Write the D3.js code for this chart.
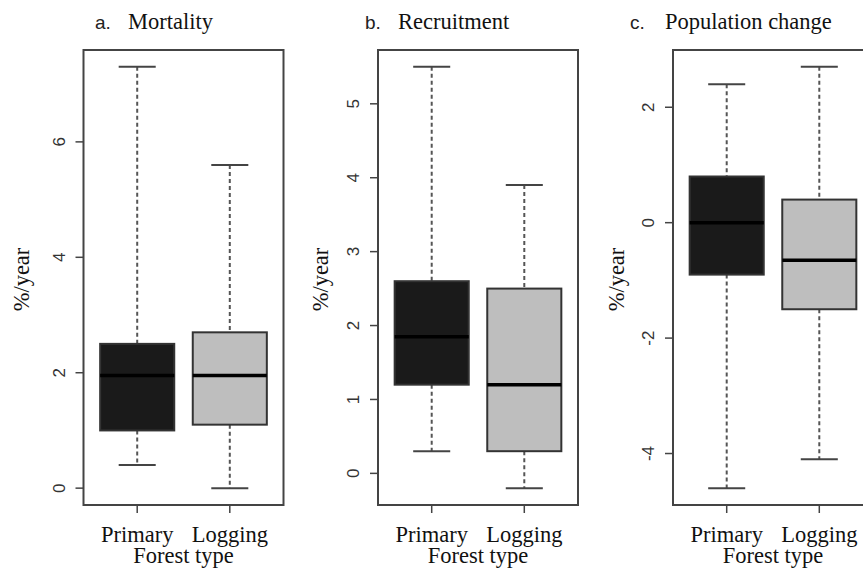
<!DOCTYPE html>
<html>
<head>
<meta charset="utf-8">
<script src="https://cdn.jsdelivr.net/npm/d3@7"></script>
<style>
  body { margin: 0; background: #fff; }
  svg { display: block; }
  .serif { font-family: "Liberation Serif", "DejaVu Serif", serif; fill: #111; }
  .sans { font-family: "Liberation Sans", Arial, sans-serif; fill: #333; }
</style>
</head>
<body>
<svg id="chart" width="863" height="571"></svg>
<script>
// Box-plot summaries: [lower whisker, Q1, median, Q3, upper whisker]
const groups = ["Primary", "Logging"];
const fills = ["#1a1a1a", "#bebebe"];

const mortality = [
  [0.4, 1.0, 1.95, 2.5, 7.3],
  [0.0, 1.1, 1.95, 2.7, 5.6],
];
const recruitment = [
  [0.3, 1.2, 1.85, 2.6, 5.5],
  [-0.2, 0.3, 1.2, 2.5, 3.9],
];
const popChange = [
  [-4.6, -0.9, 0.0, 0.8, 2.4],
  [-4.1, -1.5, -0.65, 0.4, 2.7],
];

const mortalityTicks = [0, 2, 4, 6];
const recruitmentTicks = [0, 1, 2, 3, 4, 5];
const popChangeTicks = [-4, -2, 0, 2];

const panels = [
  { letter: "a.", title: "Mortality", stats: mortality, ticks: mortalityTicks,
    left: 83.5, letterX: 95, titleX: 128, ylabX: 29 },
  { letter: "b.", title: "Recruitment", stats: recruitment, ticks: recruitmentTicks,
    left: 378, letterX: 365, titleX: 398, ylabX: 328 },
  { letter: "c.", title: "Population change", stats: popChange, ticks: popChangeTicks,
    left: 673, letterX: 630, titleX: 665, ylabX: 624 },
];

const PLOT_W = 200;
const TOP = 50;
const BOTTOM = 505;
const BOX_W = 0.8;
const CAP_W = 0.4;
const AXIS = "#444";
const FONT = "22.5px";

const svg = d3.select("#chart");

panels.forEach((p) => {
  const g = svg.append("g");

  // R-style 4% range expansion
  const lo = d3.min(p.stats, (s) => s[0]);
  const hi = d3.max(p.stats, (s) => s[4]);
  const pad = (hi - lo) * 0.04;
  const y = d3.scaleLinear().domain([lo - pad, hi + pad]).range([BOTTOM, TOP]);
  const x = d3.scaleLinear().domain([0.42, 2.58]).range([p.left, p.left + PLOT_W]);

  // title
  g.append("text").attr("class", "sans").attr("x", p.letterX).attr("y", 29)
    .style("font-size", "19px").style("fill", "#222").text(p.letter);
  g.append("text").attr("class", "serif").attr("x", p.titleX).attr("y", 29)
    .style("font-size", FONT).text(p.title);

  // boxes
  p.stats.forEach((s, i) => {
    const cx = x(i + 1);
    const bx = g.append("g");
    bx.append("line")
      .attr("x1", cx).attr("x2", cx).attr("y1", y(s[4])).attr("y2", y(s[3]))
      .attr("stroke", "#555").attr("stroke-width", 2).attr("stroke-dasharray", "4,3");
    bx.append("line")
      .attr("x1", cx).attr("x2", cx).attr("y1", y(s[1])).attr("y2", y(s[0]))
      .attr("stroke", "#555").attr("stroke-width", 2).attr("stroke-dasharray", "4,3");
    [s[0], s[4]].forEach((v) => {
      bx.append("line")
        .attr("x1", x(i + 1 - CAP_W / 2)).attr("x2", x(i + 1 + CAP_W / 2))
        .attr("y1", y(v)).attr("y2", y(v))
        .attr("stroke", AXIS).attr("stroke-width", 2);
    });
    bx.append("rect")
      .attr("x", x(i + 1 - BOX_W / 2)).attr("width", x(i + 1 + BOX_W / 2) - x(i + 1 - BOX_W / 2))
      .attr("y", y(s[3])).attr("height", y(s[1]) - y(s[3]))
      .attr("fill", fills[i]).attr("stroke", "#333").attr("stroke-width", 2);
    bx.append("line")
      .attr("x1", x(i + 1 - BOX_W / 2)).attr("x2", x(i + 1 + BOX_W / 2))
      .attr("y1", y(s[2])).attr("y2", y(s[2]))
      .attr("stroke", "#000").attr("stroke-width", 3.5);
  });

  // frame
  g.append("rect")
    .attr("x", p.left).attr("y", TOP).attr("width", PLOT_W).attr("height", BOTTOM - TOP)
    .attr("fill", "none").attr("stroke", AXIS).attr("stroke-width", 2);

  // y axis
  p.ticks.forEach((t) => {
    g.append("line")
      .attr("x1", p.left - 8).attr("x2", p.left).attr("y1", y(t)).attr("y2", y(t))
      .attr("stroke", AXIS).attr("stroke-width", 1.5);
    g.append("text").attr("class", "sans")
      .attr("transform", `translate(${p.left - 19},${y(t)}) rotate(-90)`)
      .attr("text-anchor", "middle").style("font-size", "17px")
      .text(String(t));
  });
  g.append("text").attr("class", "serif")
    .attr("transform", `translate(${p.ylabX},${(TOP + BOTTOM) / 2 + 2}) rotate(-90)`)
    .attr("text-anchor", "middle").style("font-size", FONT).text("%/year");

  // x axis
  groups.forEach((name, i) => {
    const cx = x(i + 1);
    g.append("line")
      .attr("x1", cx).attr("x2", cx).attr("y1", BOTTOM).attr("y2", BOTTOM + 8)
      .attr("stroke", AXIS).attr("stroke-width", 1.5);
    g.append("text").attr("class", "serif")
      .attr("x", cx).attr("y", 542).attr("text-anchor", "middle")
      .style("font-size", FONT).text(name);
  });
  g.append("text").attr("class", "serif")
    .attr("x", p.left + PLOT_W / 2).attr("y", 563).attr("text-anchor", "middle")
    .style("font-size", FONT).text("Forest type");
});
</script>
</body>
</html>
